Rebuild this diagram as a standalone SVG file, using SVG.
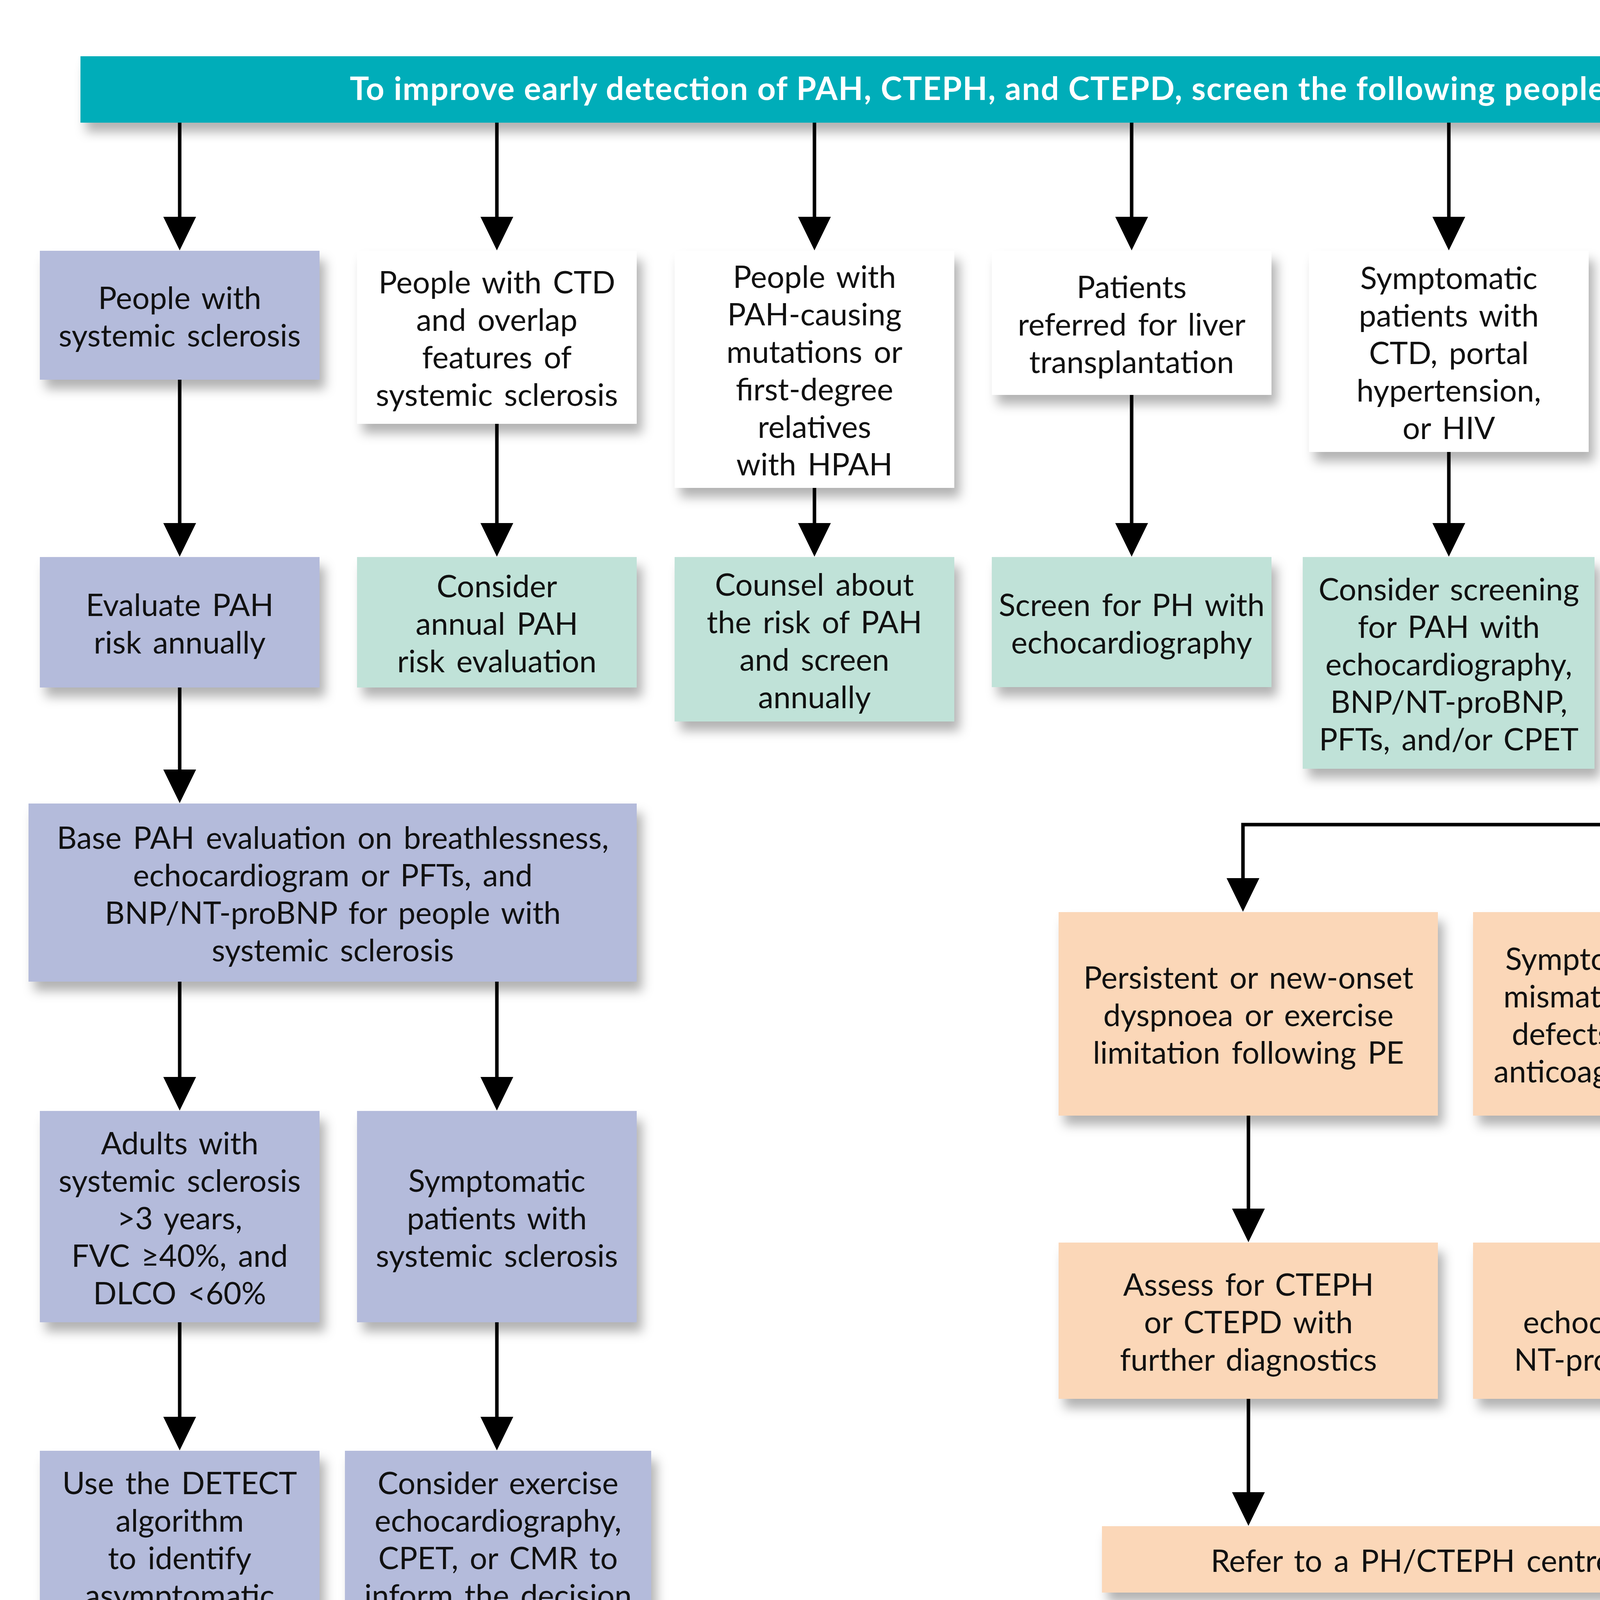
<svg xmlns="http://www.w3.org/2000/svg" width="5000" height="5542" viewBox="0 0 5000 5542">
<defs>
<filter id="sh" x="-10%" y="-10%" width="130%" height="140%">
<feDropShadow dx="14" dy="24" stdDeviation="14" flood-color="#000" flood-opacity="0.3"/>
</filter>
<marker id="ah" markerUnits="userSpaceOnUse" markerWidth="88" markerHeight="84" refX="1" refY="42" orient="auto" viewBox="0 0 88 84">
<path d="M0,0 L86,42 L0,84 z" fill="#000"/>
</marker>
<style>
.box{filter:url(#sh);}
.pu{fill:#b4bbdb;}
.wh{fill:#ffffff;}
.gr{fill:#c0e2d8;}
.or{fill:#fbd7b8;}
.t{font-family:Lato,"Liberation Sans",sans-serif;font-size:79px;fill:#111;text-anchor:middle;word-spacing:9px;}
.title{font-family:Lato,"Liberation Sans",sans-serif;font-size:82px;font-weight:bold;fill:#fff;text-anchor:middle;}
.lg{font-family:Lato,"Liberation Sans",sans-serif;font-size:69px;fill:#111;}
.ca{fill:none;stroke:#000;stroke-width:9;marker-end:url(#ah);}
</style>
</defs>
<rect width="5000" height="5542" fill="#fff"/>

<g id="header">
<rect class="box" x="206" y="144" width="4617" height="170" fill="#00adb9"/>
<text class="title" x="2514" y="256" textLength="3237" lengthAdjust="spacing">To improve early detection of PAH, CTEPH, and CTEPD, screen the following people:</text>
</g>

<g id="n1"><rect class="box pu" x="102" y="642" width="716" height="330"/>
<text class="t" x="460" y="791">People with</text><text class="t" x="460" y="887">systemic sclerosis</text></g>

<g id="n2"><rect class="box wh" x="914" y="642" width="716" height="443"/>
<text class="t" x="1272" y="751">People with CTD</text><text class="t" x="1272" y="847">and overlap</text><text class="t" x="1272" y="943">features of</text><text class="t" x="1272" y="1039">systemic sclerosis</text></g>

<g id="n3"><rect class="box wh" x="1727" y="642" width="716" height="607"/>
<text class="t" x="2085" y="737">People with</text><text class="t" x="2085" y="833">PAH-causing</text><text class="t" x="2085" y="929">mutations or</text><text class="t" x="2085" y="1025">first-degree</text><text class="t" x="2085" y="1121">relatives</text><text class="t" x="2085" y="1217">with HPAH</text></g>

<g id="n4"><rect class="box wh" x="2539" y="642" width="716" height="369"/>
<text class="t" x="2897" y="763">Patients</text><text class="t" x="2897" y="859">referred for liver</text><text class="t" x="2897" y="955">transplantation</text></g>

<g id="n5"><rect class="box wh" x="3351" y="642" width="716" height="515"/>
<text class="t" x="3709" y="740">Symptomatic</text><text class="t" x="3709" y="836">patients with</text><text class="t" x="3709" y="932">CTD, portal</text><text class="t" x="3709" y="1028">hypertension,</text><text class="t" x="3709" y="1124">or HIV</text></g>

<g id="n6"><rect class="box or" x="4163" y="642" width="716" height="326"/>
<text class="t" x="4521" y="789">Patients following</text><text class="t" x="4521" y="885">a PE</text></g>

<g id="n7"><rect class="box pu" x="102" y="1426" width="716" height="334"/>
<text class="t" x="460" y="1577">Evaluate PAH</text><text class="t" x="460" y="1673">risk annually</text></g>

<g id="n8"><rect class="box gr" x="914" y="1426" width="716" height="334"/>
<text class="t" x="1272" y="1529">Consider</text><text class="t" x="1272" y="1625">annual PAH</text><text class="t" x="1272" y="1721">risk evaluation</text></g>

<g id="n9"><rect class="box gr" x="1727" y="1426" width="716" height="421"/>
<text class="t" x="2085" y="1525">Counsel about</text><text class="t" x="2085" y="1621">the risk of PAH</text><text class="t" x="2085" y="1717">and screen</text><text class="t" x="2085" y="1813">annually</text></g>

<g id="n10"><rect class="box gr" x="2539" y="1426" width="716" height="333"/>
<text class="t" x="2897" y="1577">Screen for PH with</text><text class="t" x="2897" y="1673">echocardiography</text></g>

<g id="n11"><rect class="box gr" x="3335" y="1426" width="747" height="542"/>
<text class="t" x="3709" y="1537">Consider screening</text><text class="t" x="3709" y="1633">for PAH with</text><text class="t" x="3709" y="1729">echocardiography,</text><text class="t" x="3709" y="1825">BNP/NT-proBNP,</text><text class="t" x="3709" y="1921">PFTs, and/or CPET</text></g>

<g id="n12"><rect class="box pu" x="73" y="2057" width="1557" height="456"/>
<text class="t" x="852" y="2173">Base PAH evaluation on breathlessness,</text><text class="t" x="852" y="2269">echocardiogram or PFTs, and</text><text class="t" x="852" y="2365">BNP/NT-proBNP for people with</text><text class="t" x="852" y="2461">systemic sclerosis</text></g>

<g id="n13"><rect class="box pu" x="102" y="2844" width="716" height="541"/>
<text class="t" x="460" y="2955">Adults with</text><text class="t" x="460" y="3051">systemic sclerosis</text><text class="t" x="460" y="3147">&gt;3 years,</text><text class="t" x="460" y="3243">FVC ≥40%, and</text><text class="t" x="460" y="3339">DLCO &lt;60%</text></g>

<g id="n14"><rect class="box pu" x="914" y="2844" width="716" height="541"/>
<text class="t" x="1272" y="3051">Symptomatic</text><text class="t" x="1272" y="3147">patients with</text><text class="t" x="1272" y="3243">systemic sclerosis</text></g>

<g id="n15"><rect class="box pu" x="102" y="3714" width="716" height="542"/>
<text class="t" x="460" y="3825">Use the DETECT</text><text class="t" x="460" y="3921">algorithm</text><text class="t" x="460" y="4017">to identify</text><text class="t" x="460" y="4113">asymptomatic</text><text class="t" x="460" y="4209">patients with PAH</text></g>

<g id="n16"><rect class="box pu" x="883" y="3714" width="784" height="542"/>
<text class="t" x="1275" y="3825">Consider exercise</text><text class="t" x="1275" y="3921">echocardiography,</text><text class="t" x="1275" y="4017">CPET, or CMR to</text><text class="t" x="1275" y="4113">inform the decision</text><text class="t" x="1275" y="4209">to perform RHC</text></g>

<g id="n17"><rect class="box pu" x="73" y="4586" width="1557" height="260"/>
<text class="t" x="852" y="4700">Unexplained breathlessness following</text><text class="t" x="852" y="4796">non-invasive assessment</text></g>

<g id="n18"><rect class="box pu" x="337" y="5174" width="1030" height="171"/>
<text class="t" x="852" y="5291">Use RHC to exclude PAH</text></g>

<g id="n19"><rect class="box or" x="2710" y="2335" width="971" height="521"/>
<text class="t" x="3196" y="2531">Persistent or new-onset</text><text class="t" x="3196" y="2627">dyspnoea or exercise</text><text class="t" x="3196" y="2723">limitation following PE</text></g>

<g id="n20"><rect class="box or" x="3771" y="2335" width="1108" height="521"/>
<text class="t" x="4325" y="2483">Symptomatic patients with</text><text class="t" x="4325" y="2579">mismatched perfusion lung</text><text class="t" x="4325" y="2675">defects after 3 months of</text><text class="t" x="4325" y="2771">anticoagulation for acute PE</text></g>

<g id="n21"><rect class="box or" x="2710" y="3181" width="971" height="400"/>
<text class="t" x="3196" y="3317">Assess for CTEPH</text><text class="t" x="3196" y="3413">or CTEPD with</text><text class="t" x="3196" y="3509">further diagnostics</text></g>

<g id="n22"><rect class="box or" x="3771" y="3181" width="1108" height="400"/>
<text class="t" x="4325" y="3317">Assess with</text><text class="t" x="4325" y="3413">echocardiography, BNP/</text><text class="t" x="4325" y="3509">NT-proBNP, and/or CPET</text></g>

<g id="n23"><rect class="box or" x="2821" y="3907" width="1946" height="170"/>
<text class="t" x="3794" y="4024">Refer to a PH/CTEPH centre if needed</text></g>

<g id="legend"><rect class="box" x="2141" y="4419" width="2475" height="770" fill="#ececec"/>
<text class="lg" x="2153" y="4490" textLength="2260">PAH=pulmonary arterial hypertension; CTEPH=chronic thromboembolic</text>
<text class="lg" x="2153" y="4575" textLength="2197">pulmonary hypertension; CTEPD=chronic thromboembolic pulmonary</text>
<text class="lg" x="2153" y="4660" textLength="2161">disease; CTD=connective tissue disease; HPAH=heritable pulmonary</text>
<text class="lg" x="2153" y="4745" textLength="2318">arterial hypertension; HIV=human immunodeficiency virus; PE=pulmonary</text>
<text class="lg" x="2153" y="4830" textLength="2255">embolism; PH=pulmonary hypertension; BNP=brain natriuretic peptide;</text>
<text class="lg" x="2153" y="4915" textLength="2189">NT-proBNP=N-terminal pro-brain natriuretic peptide; PFT=pulmonary</text>
<text class="lg" x="2153" y="5000" textLength="2255">function test; CPET=cardiopulmonary exercise testing; FVC=forced vital</text>
<text class="lg" x="2153" y="5085" textLength="2388">capacity; DLCO=lung diffusion capacity for carbon monoxide; CMR=cardiac</text>
<text class="lg" x="2153" y="5170" textLength="1670">magnetic resonance; RHC=right heart catheterisation</text>
</g>

<g id="connectors">
<path class="ca" d="M460,314 V556"/>
<path class="ca" d="M1272,314 V556"/>
<path class="ca" d="M2085,314 V556"/>
<path class="ca" d="M2897,314 V556"/>
<path class="ca" d="M3709,314 V556"/>
<path class="ca" d="M4521,314 V556"/>
<path class="ca" d="M460,972 V1340"/>
<path class="ca" d="M1272,1085 V1340"/>
<path class="ca" d="M2085,1249 V1340"/>
<path class="ca" d="M2897,1011 V1340"/>
<path class="ca" d="M3709,1157 V1340"/>
<path class="ca" d="M460,1760 V1971"/>
<path class="ca" d="M460,2513 V2758"/>
<path class="ca" d="M1272,2513 V2758"/>
<path class="ca" d="M460,3385 V3628"/>
<path class="ca" d="M1272,3385 V3628"/>
<path class="ca" d="M460,4256 V4500"/>
<path class="ca" d="M1272,4256 V4500"/>
<path class="ca" d="M852,4846 V5088"/>
<path class="ca" d="M4521,968 V2249"/>
<path class="ca" d="M4521,2111 H3182 V2249"/>
<path class="ca" d="M3196,2856 V3095"/>
<path class="ca" d="M4325,2856 V3095"/>
<path class="ca" d="M3196,3581 V3821"/>
<path class="ca" d="M4325,3581 V3821"/>
</g>
</svg>
